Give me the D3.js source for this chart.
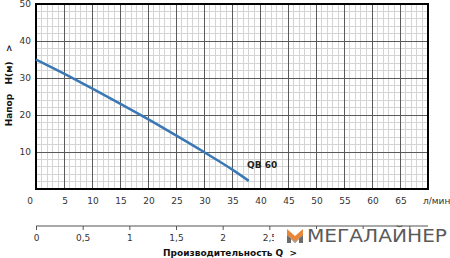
<!DOCTYPE html>
<html>
<head>
<meta charset="utf-8">
<script src="https://cdn.jsdelivr.net/npm/d3@7"></script>
<style>
  body { margin: 0; background: #fff; }
  svg { display: block; font-family: "DejaVu Sans", Verdana, sans-serif; }
</style>
</head>
<body>
<div id="chart"></div>
<script>
// pump curve QB 60
const flowLmin = [0, 5, 10, 15, 20, 25, 30, 35, 38];
const headM = [35, 31.2, 27.2, 23.1, 18.9, 14.5, 10.0, 5.3, 2.2];
const seriesName = "QB 60";

const xTicks = [0, 5, 10, 15, 20, 25, 30, 35, 40, 45, 50, 55, 60, 65];
const yTicks = [10, 20, 30, 40, 50];
const m3hTicks = [0, 0.5, 1, 1.5, 2, 2.5, 3, 3.5, 4];
// labels past 2,5 sit under the logo in the original
const m3hLabelled = [0, 0.5, 1, 1.5, 2, 2.5];

const width = 450;
const height = 258;
const margin = { top: 4, right: 22, bottom: 69, left: 36 };

const x = d3.scaleLinear([0, 70], [margin.left, width - margin.right]);
const y = d3.scaleLinear([0, 50], [height - margin.bottom, margin.top]);
// second scale: m3/h (1 m3/h = 16.667 l/min)
const xq = d3.scaleLinear([0, 70 / 16.6667], [margin.left, width - margin.right]);

const svg = d3
  .select("#chart")
  .append("svg")
  .attr("width", width)
  .attr("height", height);

// minor grid
const grid = svg.append("g").attr("shape-rendering", "crispEdges");
grid
  .selectAll("line.vminor")
  .data(d3.range(1, 70))
  .join("line")
  .attr("x1", (d) => x(d))
  .attr("x2", (d) => x(d))
  .attr("y1", y(0))
  .attr("y2", y(50))
  .attr("stroke", "#d4d4d4");
grid
  .selectAll("line.hminor")
  .data(d3.range(2, 50, 2))
  .join("line")
  .attr("x1", x(0))
  .attr("x2", x(70))
  .attr("y1", (d) => y(d))
  .attr("y2", (d) => y(d))
  .attr("stroke", "#d4d4d4");

// major grid
grid
  .append("g")
  .selectAll("line")
  .data(d3.range(5, 70, 5))
  .join("line")
  .attr("x1", (d) => x(d))
  .attr("x2", (d) => x(d))
  .attr("y1", y(0))
  .attr("y2", y(50))
  .attr("stroke", "#5a5a5a");
grid
  .append("g")
  .selectAll("line")
  .data(d3.range(10, 50, 10))
  .join("line")
  .attr("x1", x(0))
  .attr("x2", x(70))
  .attr("y1", (d) => y(d))
  .attr("y2", (d) => y(d))
  .attr("stroke", "#5a5a5a");

// frame
svg
  .append("rect")
  .attr("x", x(0))
  .attr("y", y(50))
  .attr("width", x(70) - x(0))
  .attr("height", y(0) - y(50))
  .attr("fill", "none")
  .attr("stroke", "#000")
  .attr("stroke-width", 2);

// curve
const line = d3
  .line()
  .x((d, i) => x(flowLmin[i]))
  .y((d) => y(d))
  .curve(d3.curveMonotoneX);

svg
  .append("path")
  .datum(headM)
  .attr("fill", "none")
  .attr("stroke", "#3a78b5")
  .attr("stroke-width", 2.5)
  .attr("d", line);

svg
  .append("text")
  .attr("x", x(37.7))
  .attr("y", y(6) + 1)
  .attr("font-size", 9)
  .attr("font-weight", "bold")
  .attr("fill", "#222")
  .text(seriesName);

// x tick labels (l/min)
svg
  .append("g")
  .attr("font-size", 9)
  .attr("fill", "#333")
  .selectAll("text")
  .data(xTicks)
  .join("text")
  .attr("x", (d) => (d === 0 ? x(d) - 6 : x(d) + 1))
  .attr("y", y(0) + 15)
  .attr("text-anchor", "middle")
  .text((d) => d);

svg
  .append("text")
  .attr("x", 423)
  .attr("y", y(0) + 15)
  .attr("font-size", 9)
  .attr("fill", "#333")
  .text("л/мин");

// y tick labels
svg
  .append("g")
  .attr("font-size", 9)
  .attr("fill", "#333")
  .selectAll("text")
  .data(yTicks)
  .join("text")
  .attr("x", 31)
  .attr("y", (d) => y(d) + 3)
  .attr("text-anchor", "end")
  .text((d) => d);

// y title
svg
  .append("text")
  .attr("transform", `translate(12,${y(28)}) rotate(-90)`)
  .attr("text-anchor", "middle")
  .attr("font-size", 9)
  .attr("font-weight", "bold")
  .attr("fill", "#111")
  .attr("xml:space", "preserve")
  .text("Напор   H(м)   >");

// second axis, m3/h
const axisQ = svg
  .append("g")
  .attr("transform", `translate(0,${y(0) + 37})`)
  .call(
    d3
      .axisBottom(xq)
      .tickValues(m3hTicks)
      .tickSize(4)
      .tickFormat((d) => (m3hLabelled.includes(d) ? String(d).replace(".", ",") : ""))
  );
axisQ.select(".domain").attr("stroke", "#555").attr("d", `M${x(0)},0H${x(70)}`);
axisQ.selectAll(".tick line").attr("stroke", "#555");
axisQ
  .selectAll(".tick text")
  .attr("font-family", "DejaVu Sans, sans-serif")
  .attr("font-size", 9)
  .attr("fill", "#333")
  .attr("dy", "0.9em");

// bottom title
svg
  .append("text")
  .attr("x", 163)
  .attr("y", 256)
  .attr("font-size", 9)
  .attr("font-weight", "bold")
  .attr("fill", "#111")
  .attr("xml:space", "preserve")
  .text("Производительность Q  >");

// logo over the axis labels
const logo = svg.append("g");
logo
  .append("rect")
  .attr("x", 274)
  .attr("y", 229)
  .attr("width", 176)
  .attr("height", 19)
  .attr("fill", "#fff");
logo
  .append("path")
  .attr("d", "M287,229 L295,236 L303,229 L303,235 L295,242 L287,235 Z")
  .attr("fill", "#e8873a");
logo
  .append("path")
  .attr("d", "M287,235 L295,242 L303,235 L303,243 L299,243 L299,239 L295,243 L291,239 L291,243 L287,243 Z")
  .attr("fill", "#6b6b6b");
logo
  .append("text")
  .attr("x", 307)
  .attr("y", 242)
  .attr("font-size", 17)
  .attr("fill", "#5a5a5a")
  .attr("textLength", 140)
  .attr("lengthAdjust", "spacingAndGlyphs")
  .text("МЕГАЛАЙНЕР");
</script>
</body>
</html>
